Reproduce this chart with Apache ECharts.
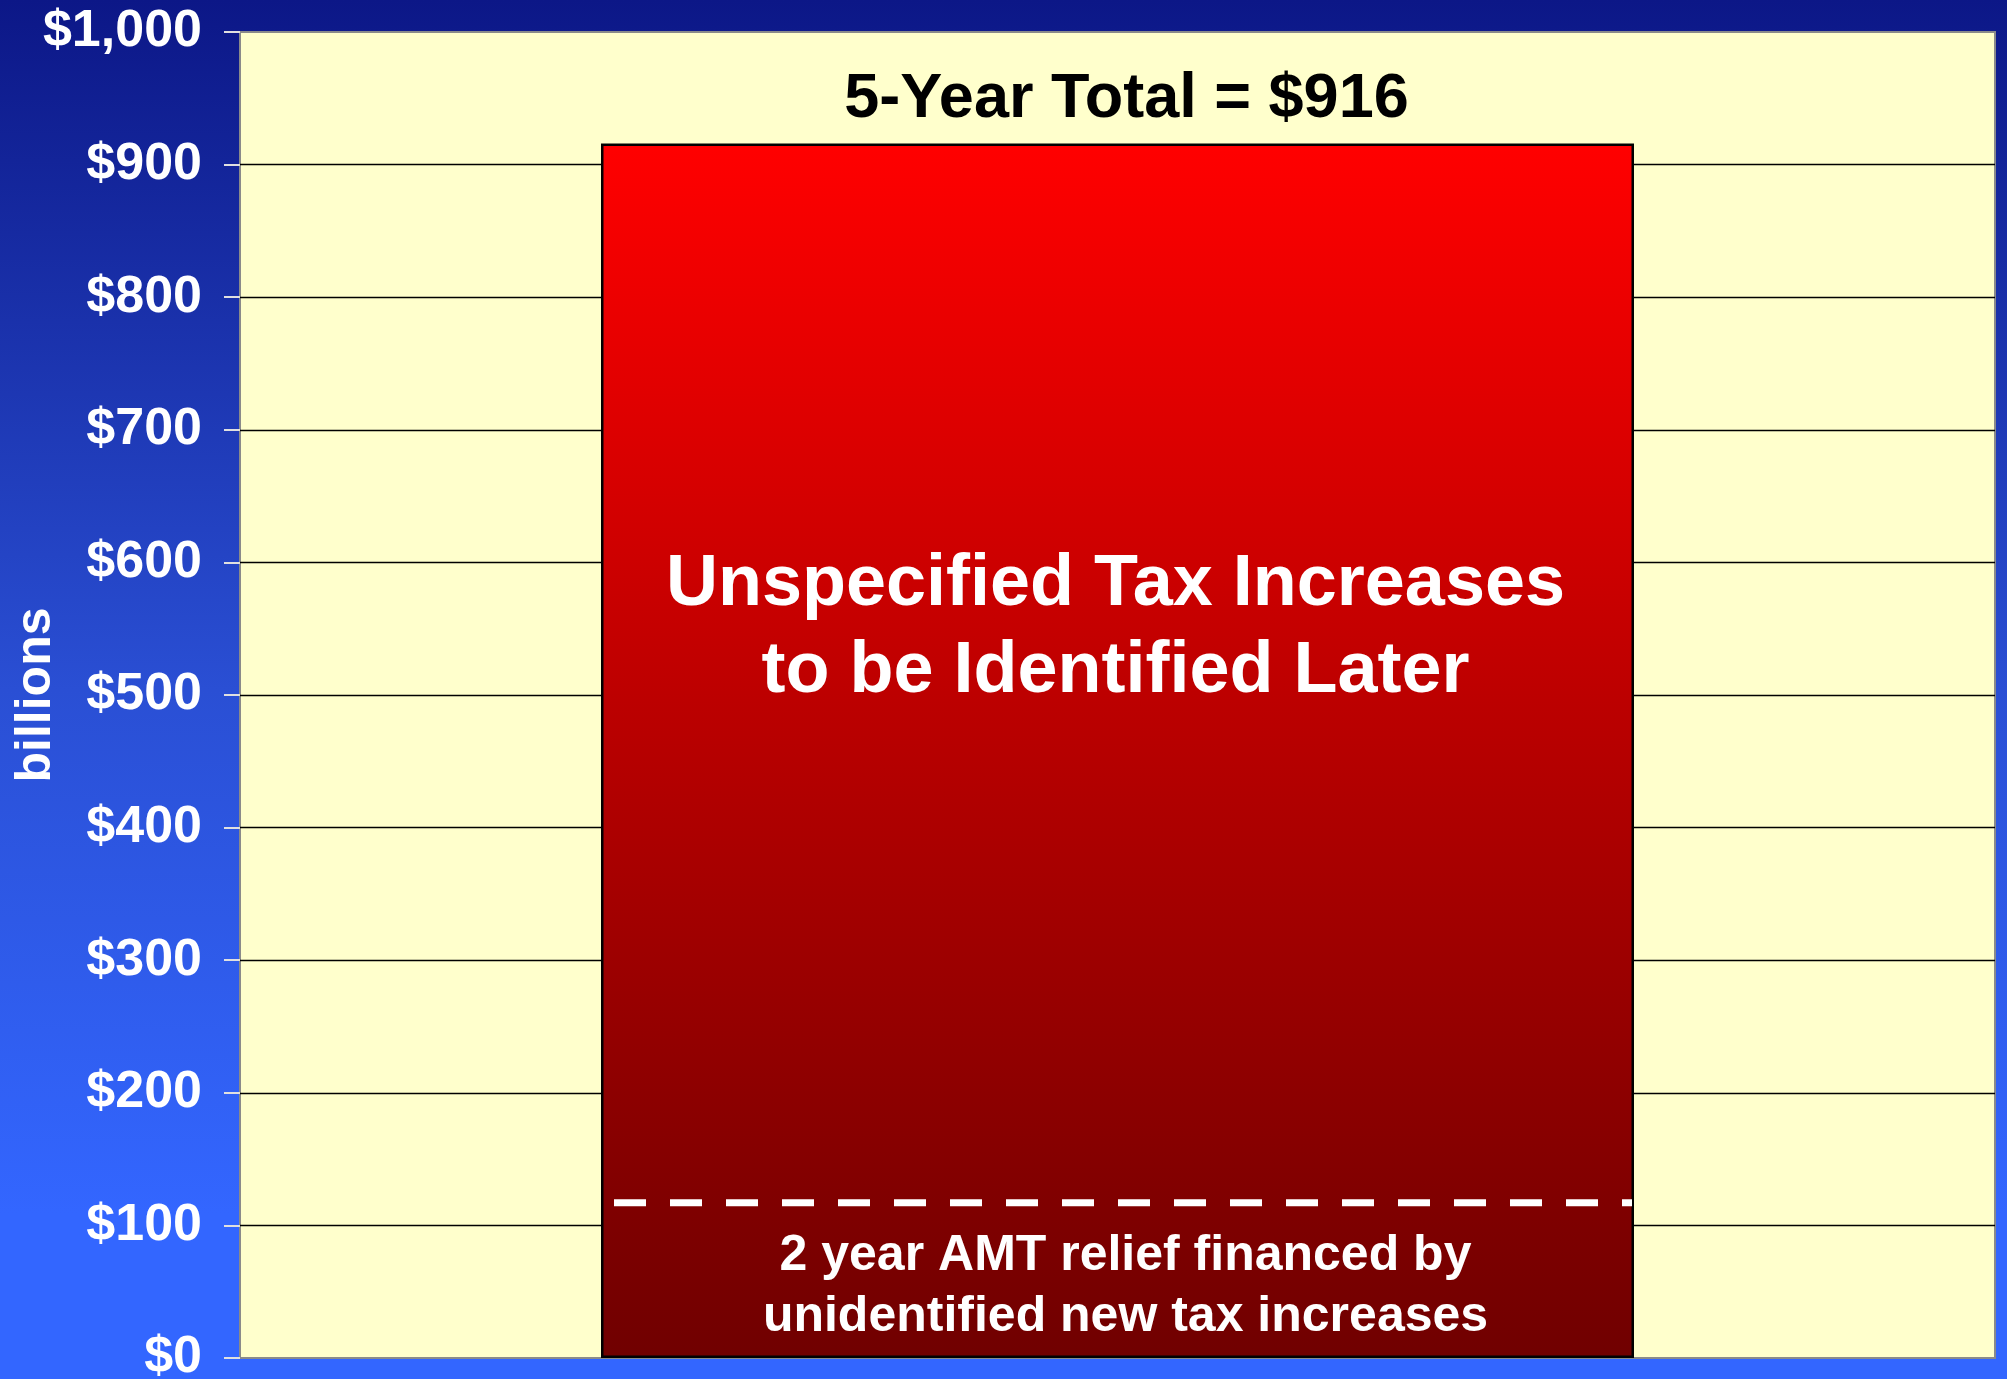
<!DOCTYPE html>
<html>
<head>
<meta charset="utf-8">
<style>
html,body{margin:0;padding:0;width:2007px;height:1379px;overflow:hidden;}
#c{width:2007px;height:1379px;}
</style>
<script src="https://cdn.jsdelivr.net/npm/echarts@6/dist/echarts.min.js"></script>
</head>
<body>
<div id="c"></div>
<script>
// Data (billions of dollars)
const categories = ['5-Year Total'];
const amtRelief = [117];          // 2 year AMT relief financed by unidentified new tax increases
const unspecified = [799];        // remaining unspecified tax increases
const totals = amtRelief.map((v, i) => v + unspecified[i]);
const yTicks = [0, 100, 200, 300, 400, 500, 600, 700, 800, 900, 1000];

const FONT = '"Liberation Sans", Arial, sans-serif';
const BAR_W = 0.5886;

const chart = echarts.init(document.getElementById('c'), null, {renderer: 'canvas'});
chart.setOption({
  animation: false,
  backgroundColor: new echarts.graphic.LinearGradient(0, 0, 0, 1, [
    {offset: 0, color: '#0c1787'},
    {offset: 0.5, color: '#2a4fd4'},
    {offset: 0.88, color: '#3366ff'},
    {offset: 1, color: '#3366ff'}
  ]),
  grid: {
    left: 240, right: 12, top: 32, bottom: 21,
    containLabel: false, outerBoundsMode: 'none',
    show: true, backgroundColor: '#ffffcc',
    borderColor: '#8a8a8a', borderWidth: 2
  },
  xAxis: {
    type: 'category', data: categories,
    axisLine: {show: false}, axisTick: {show: false}, axisLabel: {show: false}
  },
  yAxis: {
    type: 'value', min: yTicks[0], max: yTicks[yTicks.length - 1], interval: 100,
    name: 'billions', nameLocation: 'middle', nameRotate: 90, nameGap: 179,
    nameMoveOverlap: false,
    nameTextStyle: {color: '#ffffff', fontFamily: FONT, fontWeight: 'bold', fontSize: 50},
    axisLine: {show: false},
    axisTick: {show: true, length: 16, lineStyle: {color: '#e0e0e0', width: 2}},
    axisLabel: {
      color: '#ffffff', fontFamily: FONT, fontWeight: 'bold', fontSize: 52, margin: 38,
      formatter: v => '$' + v.toLocaleString('en-US')
    },
    splitLine: {show: true, showMinLine: false, showMaxLine: false, lineStyle: {color: '#000000', width: 1.3}}
  },
  series: [
    {
      name: 'Total', type: 'bar', data: totals, barWidth: (BAR_W * 100) + '%', barGap: '-100%',
      itemStyle: {
        color: new echarts.graphic.LinearGradient(0, 0, 0, 1, [
          {offset: 0, color: '#ff0000'},
          {offset: 0.87, color: '#800000'},
          {offset: 1, color: '#700000'}
        ]),
        borderColor: '#000000', borderWidth: 2.5
      },
      label: {
        show: true, position: 'top', distance: 12, offset: [9, 0],
        color: '#000000', fontFamily: FONT, fontWeight: 'bold', fontSize: 63,
        formatter: p => '5-Year Total = $' + p.value
      },
      z: 2
    },
    {
      name: 'AMT relief', type: 'bar', stack: 'ov', data: amtRelief, barWidth: (BAR_W * 100) + '%',
      itemStyle: {color: 'rgba(0,0,0,0)'},
      label: {
        show: true, position: 'inside', offset: [8, 6],
        color: '#ffffff', fontFamily: FONT, fontWeight: 'bold', fontSize: 50, lineHeight: 61,
        formatter: '2 year AMT relief financed by\nunidentified new tax increases'
      },
      z: 3
    },
    {
      name: 'Unspecified', type: 'bar', stack: 'ov', data: unspecified, barWidth: (BAR_W * 100) + '%',
      itemStyle: {color: 'rgba(0,0,0,0)'},
      label: {
        show: true, position: 'inside', offset: [-2, -44],
        color: '#ffffff', fontFamily: FONT, fontWeight: 'bold', fontSize: 72, lineHeight: 87,
        formatter: 'Unspecified Tax Increases\nto be Identified Later'
      },
      z: 3
    },
    {
      name: 'divider', type: 'custom', z: 5,
      data: amtRelief.map((v, i) => [i, v]),
      renderItem: function (params, api) {
        const p = api.coord([api.value(0), api.value(1)]);
        const band = api.size([1, 0])[0];
        const half = band * BAR_W / 2;
        return {
          type: 'line',
          shape: {x1: p[0] - half + 13, y1: p[1], x2: p[0] + half - 2, y2: p[1]},
          style: {stroke: '#ffffff', lineWidth: 7, lineDash: [32, 24]}
        };
      }
    }
  ]
});
</script>
</body>
</html>
